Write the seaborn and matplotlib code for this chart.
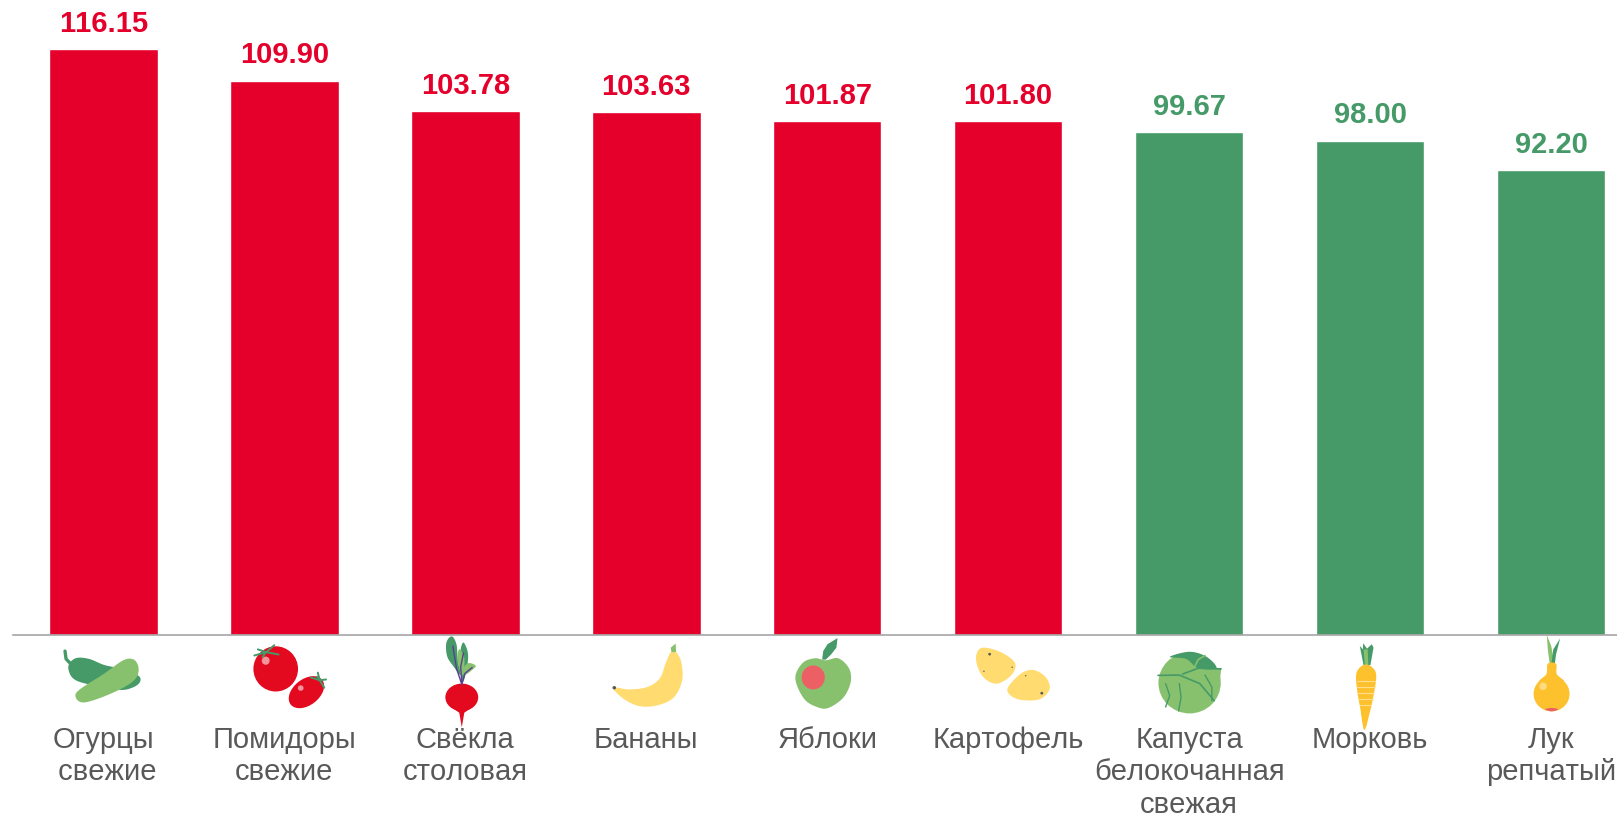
# -*- coding: utf-8 -*-
import numpy as np
import pandas as pd
import matplotlib
matplotlib.use("Agg")
import matplotlib.pyplot as plt
from matplotlib.patches import Ellipse, Polygon
import seaborn as sns

categories = [
    "Огурцы\n свежие", "Помидоры\nсвежие", "Свёкла\nстоловая", "Бананы", "Яблоки",
    "Картофель", "Капуста\nбелокочанная\nсвежая", "Морковь", "Лук\nрепчатый",
]
values = [116.15, 109.90, 103.78, 103.63, 101.87, 101.80, 99.67, 98.00, 92.20]
groups = ["up", "up", "up", "up", "up", "up", "down", "down", "down"]

RED = "#E4002B"
GREEN = "#459A68"
LIGHT_GREEN = "#88C16E"
YELLOW = "#FFDB70"
ORANGE = "#FDC12E"
TOMATO = "#E30A20"
colors = {"up": RED, "down": GREEN}

sns.set_theme(style="white")
plt.rcParams["font.family"] = ["Liberation Sans", "DejaVu Sans"]
plt.rcParams["text.kerning_factor"] = 6

W, H = 1617, 817
BASE_Y = 634.5
fig = plt.figure(figsize=(W / 100, H / 100), dpi=100, facecolor="white")
ax = fig.add_axes([13 / W, (H - BASE_Y) / H, (W - 13) / W, BASE_Y / H])

df = pd.DataFrame({"category": categories, "value": values, "group": groups})
sns.barplot(
    data=df, x="category", y="value", hue="group", palette=colors,
    dodge=False, width=0.6, legend=False, saturation=1, ax=ax,
)
ax.set_xlim(-0.5, 8.365)
ax.set_ylim(0, BASE_Y / 5.04)
ax.set_xlabel("")
ax.set_ylabel("")
ax.set_yticks([])
ax.tick_params(axis="x", length=0, pad=66, labelsize=21, labelcolor="#595959")
for lab in ax.get_xticklabels():
    lab.set_linespacing(1.19)
sns.despine(ax=ax, left=True)
ax.spines["bottom"].set_color("#A6A6A6")
ax.spines["bottom"].set_linewidth(1.2)

for container, name in zip(ax.containers, ["up", "down"]):
    ax.bar_label(container, fmt="%.2f", padding=8, fontsize=21,
                 fontweight="bold", color=colors[name], clip_on=False)

# icons under the axis, drawn on a pixel overlay
ic = fig.add_axes([0, 0, 1, 1], zorder=5)
ic.set_xlim(0, W)
ic.set_ylim(H, 0)
ic.axis("off")
ic.patch.set_alpha(0)
FY = 2.92


def conv(pts, ox, f):
    a = np.asarray(pts, dtype=float)
    return np.column_stack([ox + a[:, 0] / f, 598 + a[:, 1] / FY])


def smooth(p, n=12):
    # closed Catmull-Rom outline through the control points
    out = []
    m = len(p)
    for i in range(m):
        p0, p1, p2, p3 = p[i - 1], p[i], p[(i + 1) % m], p[(i + 2) % m]
        for t in np.linspace(0, 1, n, endpoint=False):
            out.append(0.5 * (2 * p1 + (p2 - p0) * t + (2 * p0 - 5 * p1 + 4 * p2 - p3) * t**2
                              + (3 * p1 - p0 - 3 * p2 + p3) * t**3))
    return np.array(out)


def blob(pts, color, ox, f):
    ic.add_patch(Polygon(smooth(conv(pts, ox, f)), closed=True, fc=color, ec="none"))


def poly(pts, color, ox, f):
    ic.add_patch(Polygon(conv(pts, ox, f), closed=True, fc=color, ec="none"))


def line(pts, color, ox, f, lw=1.2):
    p = conv(pts, ox, f)
    ic.plot(p[:, 0], p[:, 1], color=color, lw=lw, solid_capstyle="round")


def ell(c, w, h, color, ox, f, angle=0):
    p = conv([c], ox, f)[0]
    ic.add_patch(Ellipse(p, w / f, h / FY, angle=angle, fc=color, ec="none"))


# cucumbers
f, ox = 2.8, 0
line([(182, 155), (185, 178), (198, 192)], GREEN, ox, f, 2.4)
blob([(195, 190), (215, 175), (250, 178), (290, 195), (330, 205), (385, 225), (392, 245),
      (370, 262), (330, 268), (240, 250), (205, 235), (192, 210)], GREEN, ox, f)
blob([(212, 290), (222, 268), (290, 222), (345, 182), (375, 180), (388, 205), (380, 235),
      (345, 262), (280, 292), (232, 305)], LIGHT_GREEN, ox, f)

# tomatoes
ell((772, 207), 125, 132, TOMATO, ox, f)
ell((744, 183), 22, 24, "#F2949C", ox, f)
ell((858, 275), 112, 76, TOMATO, ox, f, angle=-38)
ell((842, 263), 16, 16, "#F2949C", ox, f)
for end in [(712, 168), (722, 150), (768, 138), (780, 165), (735, 172)]:
    line([(745, 158), end], GREEN, ox, f, 1.4)
for end in [(870, 232), (890, 218), (913, 238), (908, 262), (888, 230)]:
    line([(895, 240), end], GREEN, ox, f, 1.4)

# beetroot
blob([(1265, 112), (1278, 135), (1282, 180), (1290, 225), (1270, 200), (1252, 170), (1250, 130)],
     GREEN, ox, f)
blob([(1298, 130), (1310, 160), (1308, 200), (1296, 245), (1290, 190), (1290, 150)], GREEN, ox, f)
blob([(1285, 150), (1300, 175), (1296, 225), (1282, 190)], LIGHT_GREEN, ox, f)
blob([(1312, 190), (1332, 198), (1320, 212), (1300, 225), (1298, 205)], LIGHT_GREEN, ox, f)
line([(1293, 252), (1278, 205), (1268, 140)], "#5B3E92", ox, f, 1)
line([(1293, 252), (1290, 200), (1298, 160)], "#5B3E92", ox, f, 1)
line([(1293, 252), (1302, 220), (1322, 203)], "#5B3E92", ox, f, 1)
ell((1293, 290), 92, 80, TOMATO, ox, f)
poly([(1262, 318), (1286, 335), (1293, 378), (1300, 335), (1324, 318)], TOMATO, ox, f)

# banana
ox = 540
blob([(205, 262), (250, 267), (300, 260), (335, 235), (352, 190), (365, 160), (378, 155),
      (395, 185), (398, 240), (375, 290), (330, 313), (280, 316), (235, 295)], YELLOW, ox, f)
poly([(366, 145), (380, 133), (381, 158), (368, 158)], LIGHT_GREEN, ox, f)
ell((208, 262), 10, 10, "#595959", ox, f)

# apple
blob([(715, 235), (735, 190), (770, 176), (800, 182), (835, 176), (865, 205), (870, 245),
      (850, 290), (810, 320), (780, 320), (740, 295)], LIGHT_GREEN, ox, f)
ell((765, 232), 65, 70, "#EC6065", ox, f)
poly([(790, 180), (793, 155), (805, 135), (833, 117), (830, 145), (815, 165), (800, 180)],
     GREEN, ox, f)

# potatoes
blob([(1222, 165), (1240, 145), (1290, 158), (1330, 190), (1320, 225), (1280, 250),
      (1245, 235), (1225, 200)], YELLOW, ox, f)
blob([(1310, 262), (1345, 222), (1380, 210), (1415, 230), (1427, 265), (1400, 295),
      (1350, 298), (1318, 285)], YELLOW, ox, f)
for c, d in [((1259, 164), 8), ((1405, 278), 8), ((1243, 214), 4), ((1322, 202), 4),
             ((1360, 227), 4)]:
    ell(c, d, d, "#595959", ox, f)

# cabbage
f, ox = 2.92, 1080
ell((320, 248), 182, 178, LIGHT_GREEN, ox, f)
blob([(262, 172), (320, 157), (370, 172), (398, 205), (345, 205), (310, 178)], GREEN, ox, f)
poly([(395, 205), (412, 207), (408, 250), (395, 240)], LIGHT_GREEN, ox, f)
line([(228, 226), (290, 225), (350, 250), (392, 300)], GREEN, ox, f, 1.2)
line([(300, 222), (345, 205), (412, 207)], GREEN, ox, f, 1.2)
line([(335, 200), (345, 180), (365, 168)], LIGHT_GREEN, ox, f, 1.2)
line([(290, 250), (295, 290), (288, 330)], GREEN, ox, f, 1)
line([(250, 250), (262, 285), (250, 318)], GREEN, ox, f, 1)
line([(365, 225), (385, 260), (385, 300)], GREEN, ox, f, 1)

# carrot
poly([(817, 140), (826, 150), (827, 132), (838, 148), (852, 135), (857, 145), (848, 196), (828, 196)],
     GREEN, ox, f)
poly([(828, 150), (840, 150), (842, 196), (832, 196)], LIGHT_GREEN, ox, f)
blob([(806, 228), (815, 205), (835, 194), (856, 205), (865, 228), (858, 280), (846, 335),
      (830, 385), (818, 320), (810, 275)], ORANGE, ox, f)
for y, a, b in [(243, 808, 862), (260, 810, 860), (277, 812, 858), (295, 814, 856), (312, 819, 850)]:
    line([(a, y), (b, y)], "#FEE08A", ox, f, 0.8)

# onion
poly([(1363, 108), (1376, 140), (1386, 196), (1372, 196), (1366, 150)], LIGHT_GREEN, ox, f)
poly([(1402, 118), (1390, 165), (1386, 196), (1376, 196), (1382, 150)], GREEN, ox, f)
blob([(1366, 192), (1390, 192), (1392, 222), (1412, 245), (1342, 245), (1362, 222)], ORANGE, ox, f)
ell((1377, 280), 105, 102, ORANGE, ox, f)
blob([(1358, 325), (1377, 321), (1396, 325), (1377, 331)], "#EC6065", ox, f)
ell((1352, 258), 22, 22, "#FEDB7E", ox, f)

fig.savefig("out.png", dpi=100, facecolor="white")
